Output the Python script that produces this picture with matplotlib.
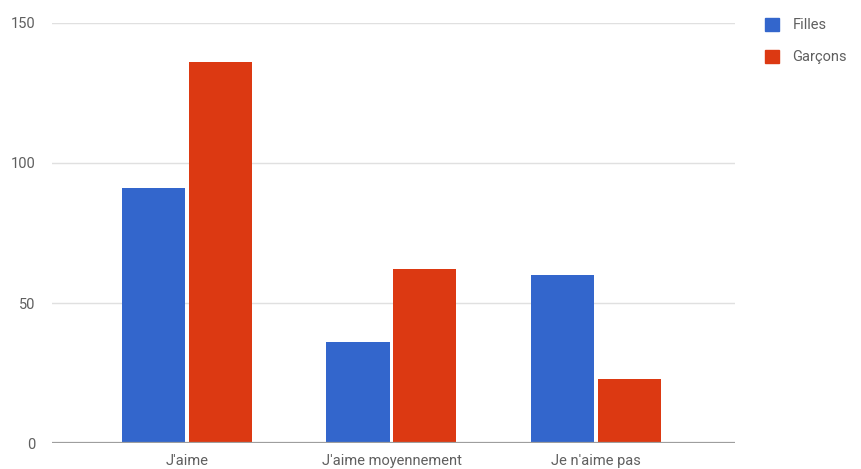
import numpy as np
import matplotlib.pyplot as plt
from matplotlib.patches import Patch

# données
categories = ["J'aime", "J'aime moyennement", "Je n'aime pas"]
filles = [91, 36, 60]
garcons = [136, 62, 23]
series_names = ["Filles", "Garçons"]
y_ticks = [0, 50, 100, 150]

BLUE = "#3366CC"
RED = "#DC3912"

plt.rcParams['font.family'] = ['Roboto', 'DejaVu Sans']

fig = plt.figure(figsize=(8.62, 4.69), dpi=100)
ax = fig.add_axes([0.0603, 0.0554, 0.7924, 0.8956])

x = np.arange(len(categories))
w = 0.31
gap = 0.008
ax.bar(x - w / 2 - gap, filles, width=w, color=BLUE, zorder=3)
ax.bar(x + w / 2 + gap, garcons, width=w, color=RED, zorder=3)

ax.set_xlim(-0.66, 2.68)
ax.set_ylim(0, 150)
ax.set_yticks(y_ticks)
ax.set_xticks(x)
ax.set_xticklabels(categories)

for v in y_ticks[1:]:
    ax.axhline(v, color="#e0e0e0", linewidth=1, zorder=1)
ax.axhline(0, color="#9e9e9e", linewidth=1.6, zorder=4)

for s in ax.spines.values():
    s.set_visible(False)
ax.tick_params(axis="both", length=0, labelsize=10.5, colors="#5f5f5f")
ax.tick_params(axis="y", pad=12)
ax.tick_params(axis="x", pad=8)

handles = [Patch(color=BLUE), Patch(color=RED)]
leg = fig.legend(handles, series_names, loc="upper left",
                 bbox_to_anchor=(0.872, 0.99), frameon=False,
                 fontsize=10.5, handlelength=1.0, handleheight=1.0,
                 handletextpad=0.9, labelspacing=1.2)
for t in leg.get_texts():
    t.set_color("#5f5f5f")

fig.savefig("out.png", dpi=100)
